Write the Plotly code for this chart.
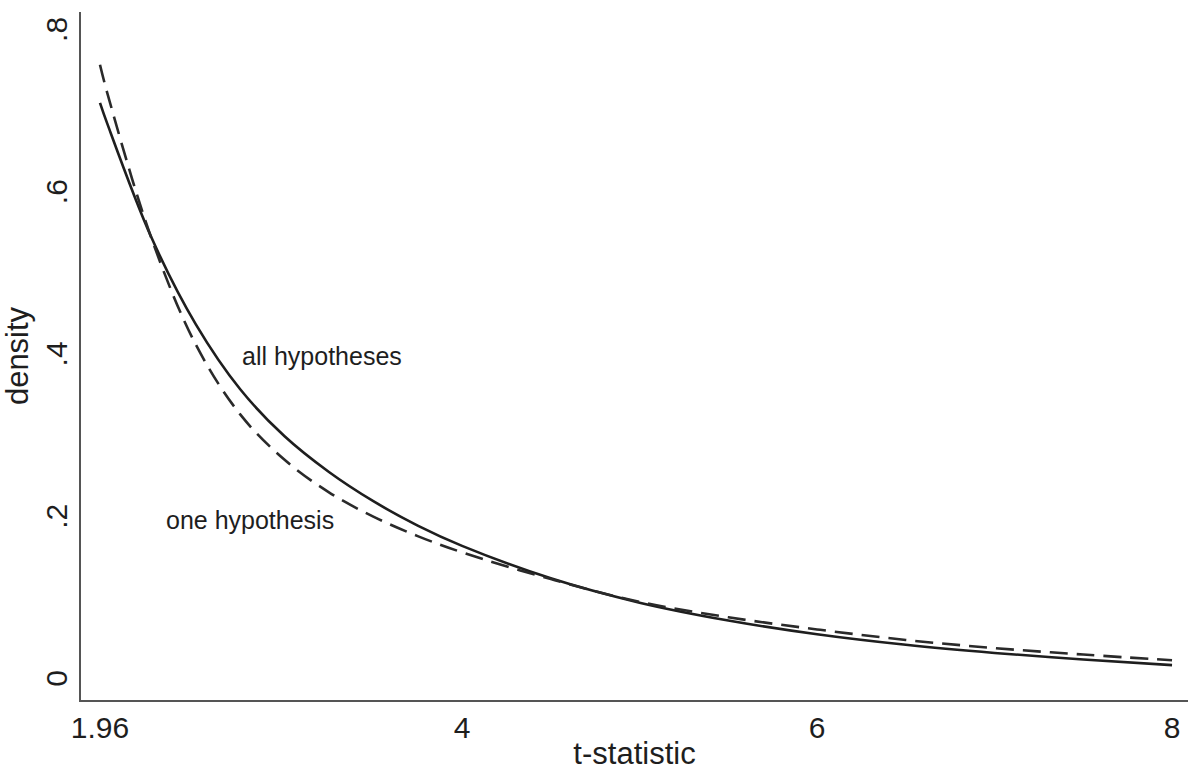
import plotly.graph_objects as go

# t-statistic grid
t_values = [1.96, 2.0, 2.25, 2.5, 2.75, 3.0, 3.25, 3.5, 3.75, 4.0, 4.5, 5.0, 5.5, 6.0, 6.5, 7.0, 7.5, 8.0]
# density, all hypotheses (solid)
density_all = [0.715, 0.690, 0.549, 0.442, 0.362, 0.304, 0.260, 0.224, 0.194, 0.169, 0.129, 0.099, 0.077, 0.060, 0.047, 0.037, 0.029, 0.022]
# density, one hypothesis (dashed)
density_one = [0.762, 0.728, 0.548, 0.417, 0.331, 0.275, 0.235, 0.205, 0.181, 0.161, 0.128, 0.100, 0.081, 0.066, 0.053, 0.043, 0.035, 0.028]

x_ticks = [1.96, 4, 6, 8]
x_tick_text = ["1.96", "4", "6", "8"]
y_ticks = [0, 0.2, 0.4, 0.6, 0.8]
y_tick_text = ["0", ".2", ".4", ".6", ".8"]

FONT = "Liberation Sans, Arial, sans-serif"
INK = "#1e1e1e"

fig = go.Figure()
fig.add_trace(go.Scatter(x=t_values, y=density_all, mode="lines", line_shape="spline",
                         line=dict(color=INK, width=2.6, smoothing=1.0), name="all hypotheses",
                         showlegend=False))
fig.add_trace(go.Scatter(x=t_values, y=density_one, mode="lines", line_shape="spline",
                         line=dict(color="#2a2a2a", width=2.6, dash="18px,9px", smoothing=1.0),
                         name="one hypothesis", showlegend=False))

fig.add_annotation(x=2.747, y=0.403, text="all hypotheses", showarrow=False,
                   xanchor="left", yanchor="middle", font=dict(family=FONT, size=25, color=INK))
fig.add_annotation(x=2.32, y=0.201, text="one hypothesis", showarrow=False,
                   xanchor="left", yanchor="middle", font=dict(family=FONT, size=25, color=INK))

fig.update_layout(
    width=1188, height=771,
    margin=dict(l=81, r=0, t=12, b=71),
    paper_bgcolor="white", plot_bgcolor="white",
    font=dict(family=FONT, color=INK),
    xaxis=dict(range=[1.853, 8.09], tickvals=x_ticks, ticktext=x_tick_text,
               showgrid=False, zeroline=False, showline=True, linecolor="#555555",
               linewidth=2, ticks="", tickfont=dict(size=30, color=INK),
               title=dict(text="t-statistic", font=dict(size=31, color=INK), standoff=4)),
    yaxis=dict(range=[-0.021, 0.827], tickvals=y_ticks, ticktext=y_tick_text,
               showgrid=False, zeroline=False, showline=True, linecolor="#555555",
               linewidth=2, ticks="", tickangle=-90, tickfont=dict(size=30, color=INK),
               title=dict(text="density", font=dict(size=31, color=INK), standoff=4)),
)

fig.write_html("out.html")
